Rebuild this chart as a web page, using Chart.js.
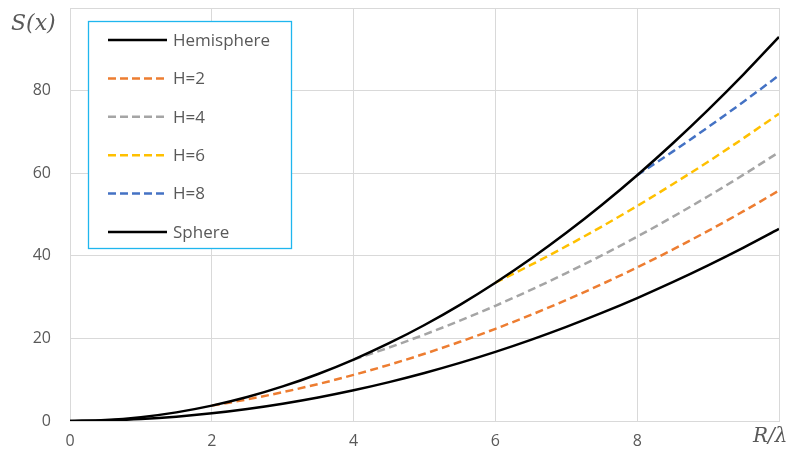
<!doctype html>
<html>
<head>
<meta charset="utf-8">
<style>
  * { margin: 0; padding: 0; }
  body { background: #fff; width: 792px; height: 457px; overflow: hidden; position: relative; }
  #wrap { position: absolute; left: 0; top: 0; width: 792px; height: 457px; }
  .ttl { position: absolute; font: italic 21px "DejaVu Serif", serif; color: #595959; white-space: nowrap; }
</style>
</head>
<body>
<div id="wrap"><canvas id="c" width="792" height="457"></canvas></div>
<div class="ttl" style="left:11px;top:10px;font-size:22px">S(x)</div>
<div class="ttl" style="left:753px;top:423px;font-size:20px">R/λ</div>
<script src="https://cdn.jsdelivr.net/npm/chart.js@4.4.1/dist/chart.umd.min.js"></script>
<script>
const xs = [0, 0.5, 1, 1.5, 2, 2.5, 3, 3.5, 4, 4.5, 5, 5.5, 6, 6.5, 7, 7.5, 8, 8.5, 9, 9.5, 10];
const hemisphere = [0, 0.23, 0.93, 2.09, 3.72, 5.81, 8.37, 11.39, 14.88, 18.83, 23.25, 28.13, 33.48, 39.29, 45.57, 52.31, 59.52, 67.19, 75.33, 83.93, 93.0];
const h2 = [null, null, null, null, 3.72, 5.23, 6.98, 8.95, 11.16, 13.6, 16.28, 19.18, 22.32, 25.69, 29.3, 33.13, 37.2, 41.5, 46.04, 50.8, 55.8];
const h4 = [null, null, null, null, null, null, null, null, 14.88, 17.79, 20.93, 24.3, 27.9, 31.74, 35.81, 40.11, 44.64, 49.41, 54.41, 59.64, 65.1];
const h6 = [null, null, null, null, null, null, null, null, null, null, null, null, 33.48, 37.78, 42.32, 47.08, 52.08, 57.32, 62.78, 68.48, 74.4];
const h8 = [null, null, null, null, null, null, null, null, null, null, null, null, null, null, null, null, 59.52, 65.22, 71.15, 77.31, 83.7];
const sphere = [0, 0.12, 0.47, 1.05, 1.86, 2.91, 4.19, 5.7, 7.44, 9.42, 11.63, 14.07, 16.74, 19.65, 22.79, 26.16, 29.76, 33.6, 37.67, 41.97, 46.5];
const yTicks = [0, 20, 40, 60, 80];
const xTicks = [0, 2, 4, 6, 8];

const pts = arr => xs.map((x, i) => ({ x, y: arr[i] }));
const line = (label, arr, color, dashed) => ({
  label, data: pts(arr), borderColor: color, backgroundColor: color,
  borderWidth: 2.5, borderDash: dashed ? [8, 4.5] : [], pointRadius: 0,
  tension: 0.4, cubicInterpolationMode: "monotone", spanGaps: false, fill: false
});

// legend drawn as a box inside the plot, like the original
const boxLegend = {
  id: "boxLegend",
  afterDraw(chart) {
    const ctx = chart.ctx;
    ctx.save();
    ctx.fillStyle = "#fff";
    ctx.fillRect(88, 21, 204, 228);
    ctx.strokeStyle = "#1fb6ee";
    ctx.lineWidth = 1.3;
    ctx.strokeRect(88.5, 21.5, 203, 227);
    ctx.font = '17px "Open Sans", sans-serif';
    ctx.textBaseline = "middle";
    chart.data.datasets.forEach((ds, k) => {
      const y = 40 + k * 38.4;
      ctx.strokeStyle = ds.borderColor;
      ctx.lineWidth = 2.5;
      ctx.setLineDash(ds.borderDash.length ? [8, 4] : []);
      ctx.beginPath(); ctx.moveTo(108, y); ctx.lineTo(167, y); ctx.stroke();
      ctx.setLineDash([]);
      ctx.fillStyle = "#595959";
      ctx.fillText(ds.label, 173, y + 1);
    });
    ctx.restore();
  }
};

const tickFont = { size: 16, family: '"Open Sans", sans-serif' };

new Chart(document.getElementById("c"), {
  type: "line",
  data: {
    datasets: [
      line("Hemisphere", hemisphere, "#000000", false),
      line("H=2", h2, "#ed7d31", true),
      line("H=4", h4, "#a5a5a5", true),
      line("H=6", h6, "#ffc000", true),
      line("H=8", h8, "#4472c4", true),
      line("Sphere", sphere, "#000000", false)
    ]
  },
  options: {
    responsive: false, animation: false,
    layout: { padding: { top: 8, right: 13, left: 0, bottom: 0 } },
    plugins: { legend: { display: false }, tooltip: { enabled: false } },
    scales: {
      x: {
        type: "linear", min: 0, max: 10,
        afterBuildTicks: s => { s.ticks = xTicks.concat([10]).map(v => ({ value: v })); },
        afterFit: s => { s.height = 36; s.paddingLeft = 0; s.paddingRight = 0; },
        grid: { color: "#d9d9d9", lineWidth: 1, drawTicks: false },
        border: { color: "#d9d9d9" },
        ticks: { padding: 11, color: "#595959", font: tickFont,
          callback: v => xTicks.includes(v) ? v : "" }
      },
      y: {
        min: 0, max: 100,
        afterBuildTicks: s => { s.ticks = yTicks.concat([100]).map(v => ({ value: v })); },
        afterFit: s => { s.width = 70; s.paddingTop = 0; s.paddingBottom = 0; },
        grid: { color: "#d9d9d9", lineWidth: 1, drawTicks: false },
        border: { color: "#d9d9d9" },
        ticks: { padding: 19, color: "#595959", font: tickFont,
          callback: v => yTicks.includes(v) ? v : "" }
      }
    }
  },
  plugins: [boxLegend]
});
</script>
</body>
</html>
